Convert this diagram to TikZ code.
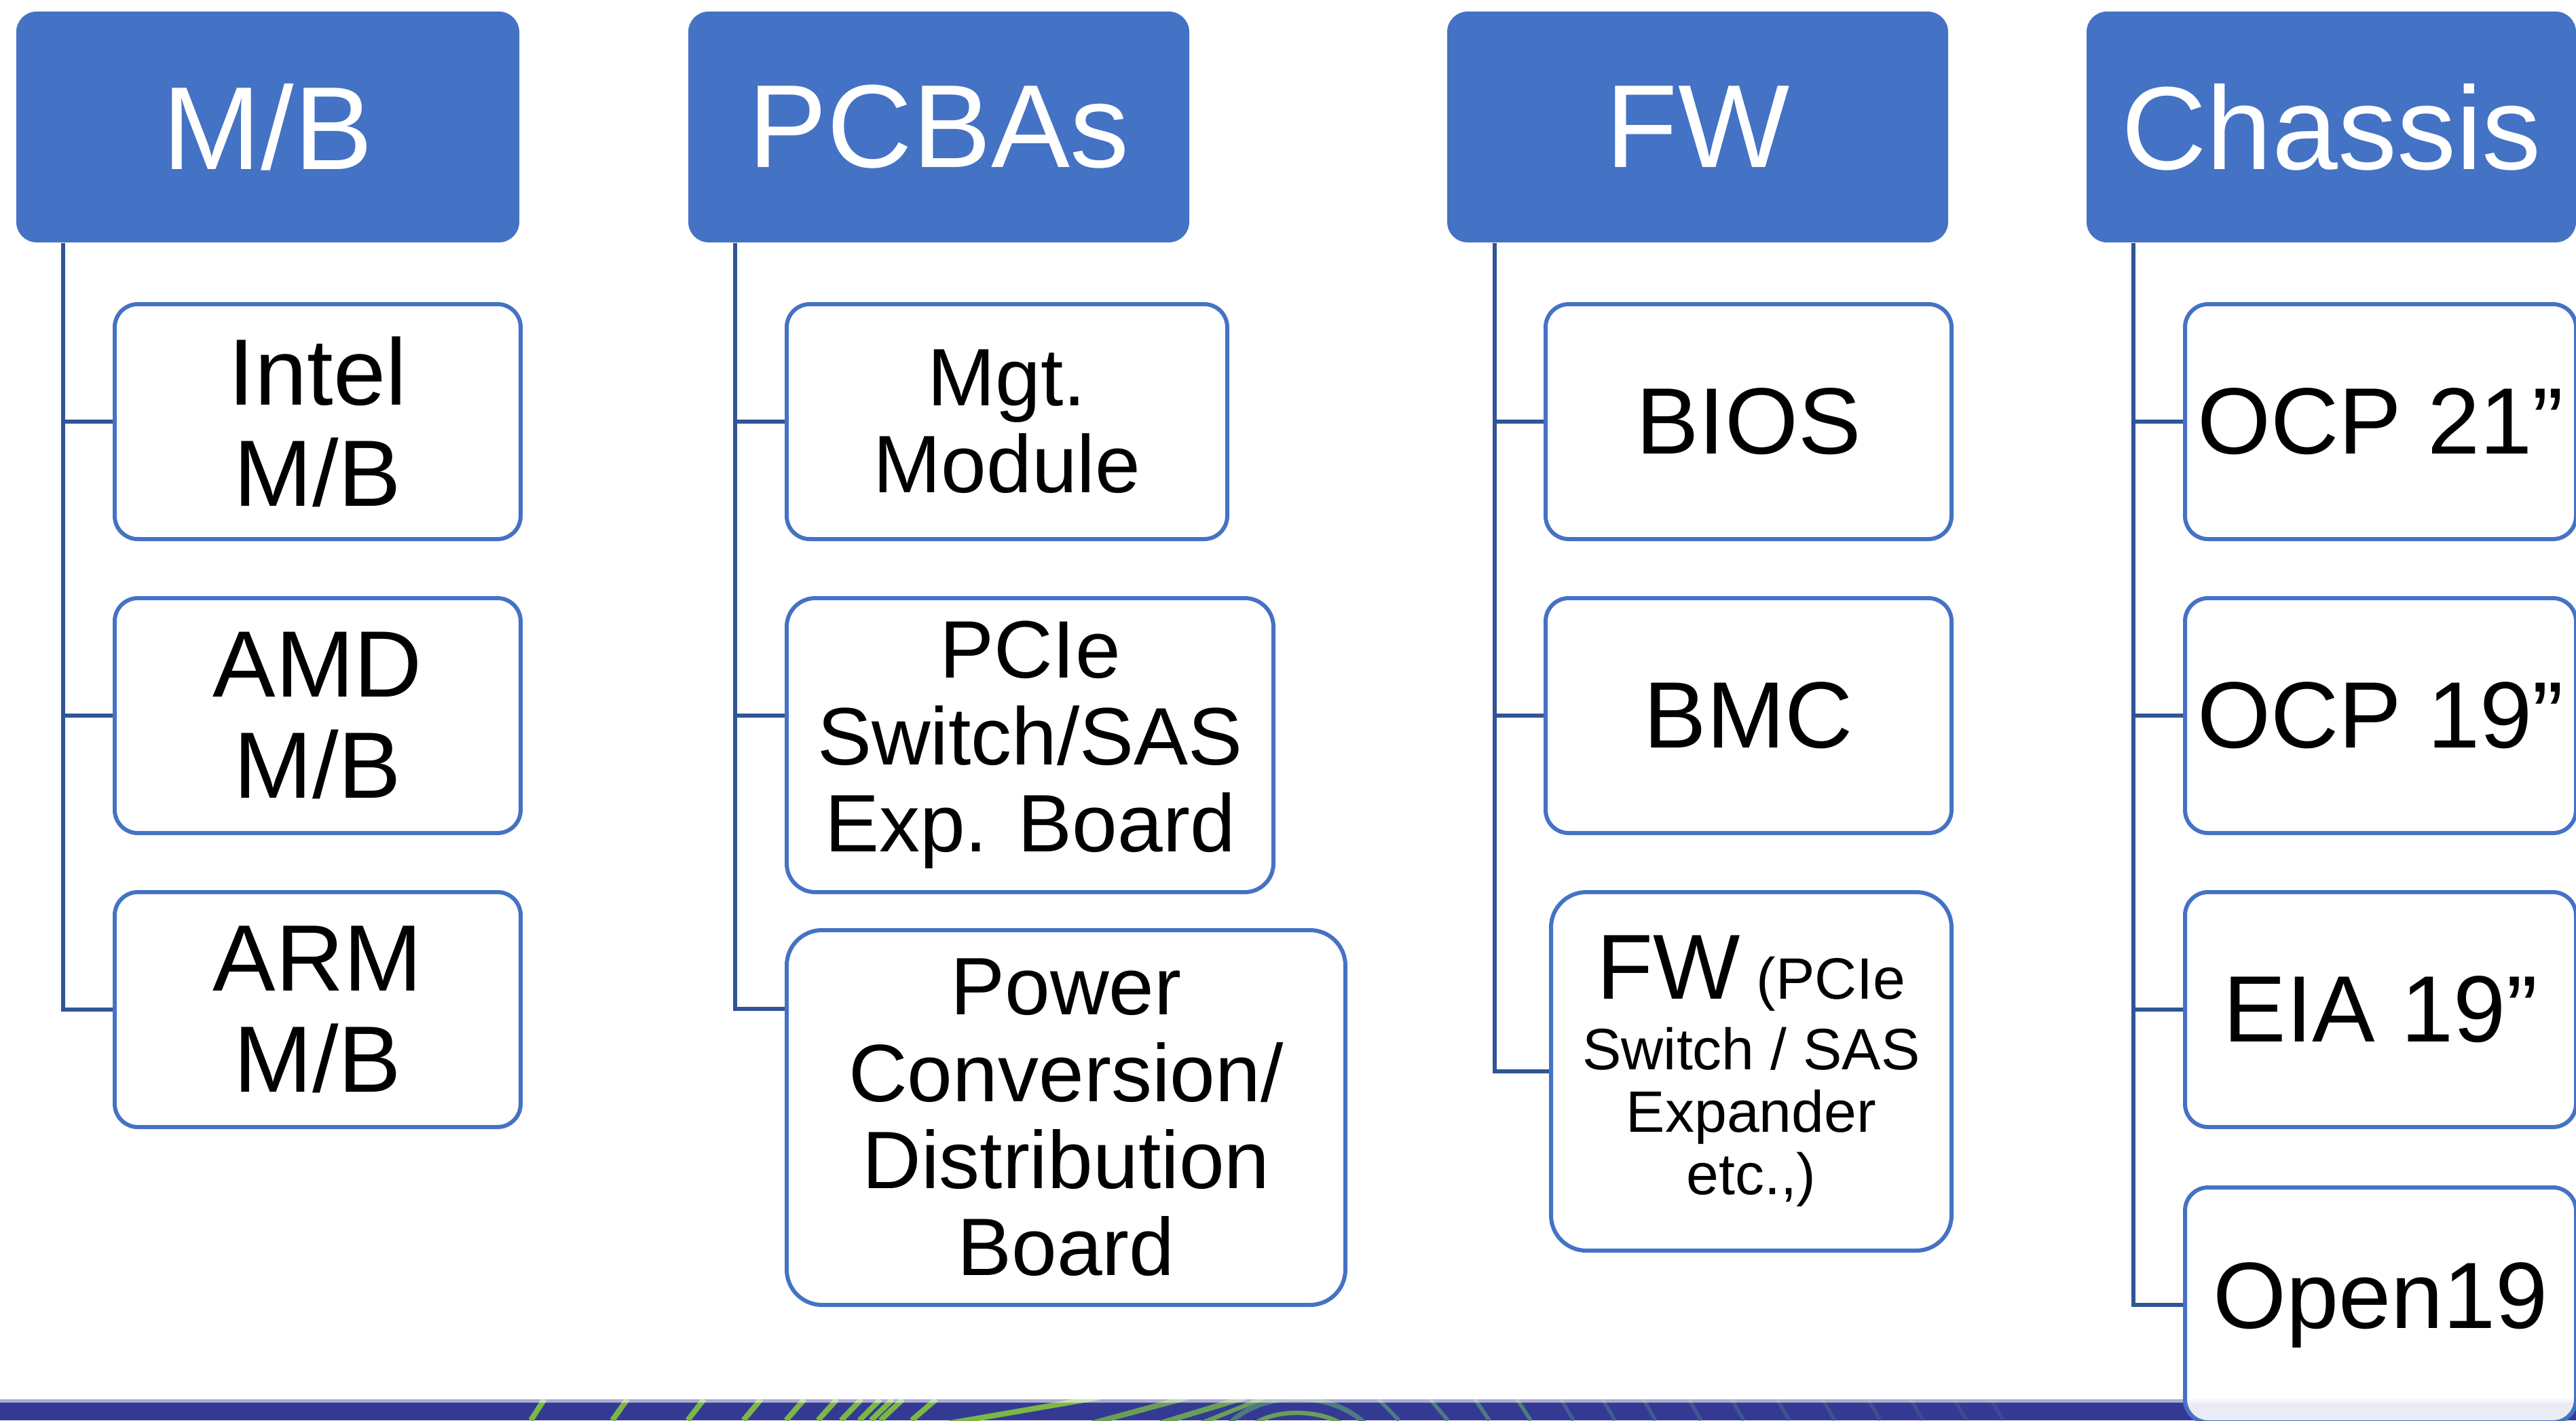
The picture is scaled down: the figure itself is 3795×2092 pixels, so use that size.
\documentclass[tikz,border=0pt]{standalone}
\usepackage{fontspec}
\setmainfont{Liberation Sans}
\definecolor{hdr}{HTML}{4472C4}
\definecolor{connc}{HTML}{2F5597}
\definecolor{bandc}{HTML}{343A94}
\definecolor{gbright}{HTML}{7DB646}
\definecolor{gmid}{HTML}{6A9E58}
\definecolor{gteal}{HTML}{4E7B80}
\definecolor{gfade}{HTML}{46628F}
\tikzset{
  hdrbox/.style={draw=none, fill=hdr, rounded corners=7.5pt, text=white,
    font=\fontsize{43.5}{46}\selectfont, inner sep=0pt, align=center},
  childbox/.style={draw=hdr, line width=1.5pt, fill=white, rounded corners=8.5pt,
    text=black, inner sep=0pt, align=center},
  bigtxt/.style={font=\fontsize{34.7}{37.3}\selectfont},
  medtxt/.style={font=\fontsize{30}{32}\selectfont},
  connline/.style={draw=connc, line width=1.5pt},
  gline/.style={line width=2pt},
}
\begin{document}
\begin{tikzpicture}[x=0.25pt, y=-0.25pt]
\useasboundingbox (0,0) rectangle (3795,2092);

% bottom band
\fill[bandc] (0,2061) rectangle (3795,2092);
\begin{scope}
  \clip (0,2061) rectangle (3795,2092);
  \foreach \t/\s in {802/20, 924/22, 1037/24, 1121/26, 1185/27, 1233/28, 1269/30, 1297/31, 1315/32, 1330/33, 1379/36}
    \draw[gbright, gline] (\t,2061) -- (\t-\s,2092);
  \draw[gbright, gline] (1400,2096) -- (1620,2058);
  \draw[gmid, gline] (1610,2096) -- (1750,2058);
  \draw[gmid, gline] (1710,2096) -- (1835,2058);
  \draw[gmid, line width=1.6pt] (1770,2096) -- (1865,2058);
  \draw[gteal, line width=1.8pt] (1812,2096) .. controls (1860,2048) and (1960,2048) .. (2010,2096);
  \draw[gmid, line width=1.6pt] (1850,2096) .. controls (1880,2076) and (1940,2076) .. (1975,2096);
  \foreach \t/\b in {2031/2061, 2107/2133, 2173/2194, 2235/2255}
    \draw[gteal, line width=1.4pt] (\t,2061) -- (\b,2092);
  \foreach \t/\o in {2300/0.9, 2361/0.85, 2421/0.8, 2488/0.75, 2551/0.7, 2618/0.65, 2685/0.6, 2752/0.55, 2815/0.5, 2879/0.45, 2933/0.4}
    \draw[gfade, line width=1.3pt, opacity=\o] (\t,2061) -- (\t+18,2092);
\end{scope}
\fill[white, opacity=0.58] (0,2061) rectangle (3795,2066);

% headers
\node[hdrbox, minimum width=185.25pt, minimum height=85pt] (mb) at (394.5,187) {M/B};
\node[hdrbox, minimum width=184.5pt, minimum height=85pt] (pcba) at (1383,187) {PCBAs};
\node[hdrbox, minimum width=184.5pt, minimum height=85pt] (fw) at (2501,187) {FW};
\node[hdrbox, minimum width=180.25pt, minimum height=85pt] (chassis) at (3434.5,187) {Chassis};

% column 1
\node[childbox, bigtxt, minimum width=149.5pt, minimum height=86.5pt] (intel) at (468,621) {Intel\\M/B};
\node[childbox, bigtxt, minimum width=149.5pt, minimum height=86.5pt] (amd) at (468,1054) {AMD\\M/B};
\node[childbox, bigtxt, minimum width=149.5pt, minimum height=86.5pt] (arm) at (468,1487) {ARM\\M/B};

% column 2
\node[childbox, medtxt, minimum width=162.25pt, minimum height=86.5pt] (mgt) at (1483.5,621) {Mgt.\\Module};
\node[childbox, medtxt, minimum width=179.25pt, minimum height=108.25pt, rounded corners=10.5pt] (pcie) at (1517.5,1097.5) {PCIe\\Switch/SAS\\Exp. Board};
\node[childbox, medtxt, minimum width=205.75pt, minimum height=138pt, rounded corners=13pt] (power) at (1570.5,1646) {Power\\Conversion/\\Distribution\\Board};

% column 3
\node[childbox, bigtxt, minimum width=149.5pt, minimum height=86.5pt] (bios) at (2576,621) {BIOS};
\node[childbox, bigtxt, minimum width=149.5pt, minimum height=86.5pt] (bmc) at (2576,1054) {BMC};
\node[childbox, font=\fontsize{21.5}{23}\selectfont, minimum width=147.5pt, minimum height=132pt, rounded corners=13pt] (fwx) at (2580,1578) {{\fontsize{34}{36}\selectfont FW} (PCIe\\[3pt]Switch / SAS\\Expander\\etc.,)};

% column 4
\node[childbox, bigtxt, minimum width=144pt, minimum height=86.5pt] (ocp21) at (3507,621) {OCP 21”};
\node[childbox, bigtxt, minimum width=144pt, minimum height=86.5pt] (ocp19) at (3507,1054) {OCP 19”};
\node[childbox, bigtxt, minimum width=144pt, minimum height=86.5pt] (eia) at (3507,1487) {EIA 19”};
\node[childbox, bigtxt, fill opacity=0.9, text opacity=1, minimum width=144pt, minimum height=86.5pt] (open19) at (3507,1922) {Open19};

% connectors
\draw[connline] ([xshift=17.5pt]mb.south west) |- (intel.west);
\draw[connline] ([xshift=17.5pt]mb.south west) |- (amd.west);
\draw[connline] ([xshift=17.5pt]mb.south west) |- (arm.west);
\draw[connline] ([xshift=17.5pt]pcba.south west) |- (mgt.west);
\draw[connline] ([xshift=17.5pt]pcba.south west) |- ([yshift=11pt]pcie.west);
\draw[connline] ([xshift=17.5pt]pcba.south west) |- ([yshift=40pt]power.west);
\draw[connline] ([xshift=17.75pt]fw.south west) |- (bios.west);
\draw[connline] ([xshift=17.75pt]fw.south west) |- (bmc.west);
\draw[connline] ([xshift=17.75pt]fw.south west) |- (fwx.west);
\draw[connline] ([xshift=17.5pt]chassis.south west) |- (ocp21.west);
\draw[connline] ([xshift=17.5pt]chassis.south west) |- (ocp19.west);
\draw[connline] ([xshift=17.5pt]chassis.south west) |- (eia.west);
\draw[connline] ([xshift=17.5pt]chassis.south west) |- (open19.west);
\end{tikzpicture}
\end{document}
